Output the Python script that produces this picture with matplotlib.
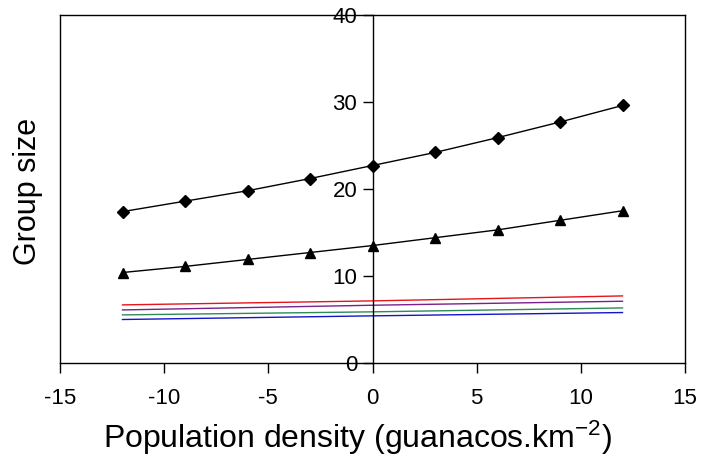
import matplotlib.pyplot as plt
from matplotlib.lines import Line2D

plt.rcParams['font.family'] = ['Liberation Sans', 'DejaVu Sans']
plt.rcParams['axes.unicode_minus'] = False
plt.rcParams['mathtext.fontset'] = 'custom'
plt.rcParams['mathtext.rm'] = 'Liberation Sans'
plt.rcParams['mathtext.default'] = 'regular'

# Population density values
density = [-12, -9, -6, -3, 0, 3, 6, 9, 12]

# Group size, the two marked series
group_diamond = [17.4, 18.6, 19.8, 21.2, 22.7, 24.2, 25.9, 27.7, 29.6]
group_triangle = [10.4, 11.1, 11.9, 12.7, 13.5, 14.4, 15.3, 16.4, 17.5]

# Plain coloured lines (read at -12, 0 and 12)
line_x = [-12, 0, 12]
group_red = [6.68, 7.14, 7.71]
group_purple = [6.10, 6.64, 7.10]
group_green = [5.53, 5.88, 6.33]
group_blue = [5.00, 5.42, 5.80]

fig = plt.figure(figsize=(7.03, 4.70), dpi=100)
ax = fig.add_axes([60 / 703, 1 - 363 / 470, 625 / 703, 348 / 470])

# Coloured lines without markers
ax.plot(line_x, group_red, color='#e8141c', lw=1)
ax.plot(line_x, group_purple, color='#7b1f8c', lw=1)
ax.plot(line_x, group_green, color='#2e8b57', lw=1)
ax.plot(line_x, group_blue, color='#1515c8', lw=1)

# Marked series
ax.plot(density, group_diamond, color='black', lw=1, marker='D', ms=6)
ax.plot(density, group_triangle, color='black', lw=1, marker='^', ms=7.5)

ax.set_xlim(-15, 15)
ax.set_ylim(0, 40)
ax.set_xticks([-15, -10, -5, 0, 5, 10, 15])
ax.set_yticks([0, 10, 20, 30, 40])

# Y axis sits at x = 0, left border drawn separately
ax.spines['left'].set_position(('data', 0))
ax.add_line(Line2D([0, 0], [0, 1], transform=ax.transAxes, color='black', lw=1, clip_on=False))
for side in ['left', 'right', 'top', 'bottom']:
    ax.spines[side].set_linewidth(1)

ax.tick_params(axis='both', direction='out', length=7, width=1, labelsize=16)
ax.tick_params(axis='x', pad=11)
ax.tick_params(axis='y', pad=4)

fig.text(28 / 703, 1 - 191 / 470, 'Group size', rotation=90, ha='center', va='center', fontsize=22)
fig.text(357 / 703, 1 - 438 / 470, 'Population density (guanacos.km$^{-2}$)', ha='center', va='center', fontsize=23)

fig.savefig('out.png', dpi=100)
